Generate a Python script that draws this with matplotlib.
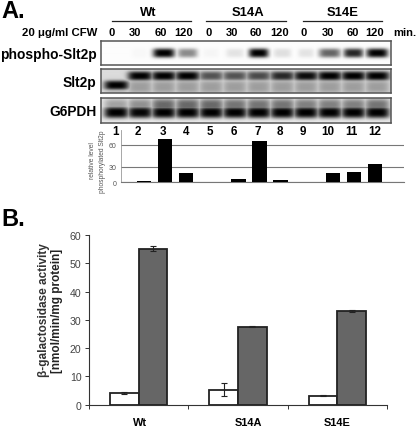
import numpy as np
import matplotlib
matplotlib.use("Agg")
import matplotlib.pyplot as plt

plt.rcParams['font.family'] = ['Liberation Sans', 'DejaVu Sans']

W, H = 416, 427

# band darkness per lane (0 = nothing, 1 = black)
phospho_level = [0.0, 0.02, 1.0, 0.45, 0.03, 0.10, 1.0, 0.12, 0.10, 0.60, 0.85, 1.0]
phospho_width = [8, 8, 11, 10, 8, 9, 10, 9, 8, 11, 10, 11]
slt2_level = [1.0, 1.0, 1.0, 1.0, 0.62, 0.62, 0.66, 0.82, 0.95, 1.0, 1.0, 1.0]
g6pdh_level = [1.0, 0.98, 1.0, 1.0, 1.0, 1.0, 1.0, 1.0, 1.0, 1.0, 1.0, 1.0]
g6pdh_smear = [0.30, 0.38, 0.55, 0.55, 0.55, 0.50, 0.50, 0.50, 0.45, 0.45, 0.45, 0.50]

time_labels = ['0', '30', '60', '120'] * 3
lane_labels = [str(i) for i in range(1, 13)]
time_x = [112, 135, 160.7, 183.3, 208.3, 232.3, 256, 279.3, 303.3, 327.7, 353, 375]
lane_x = [115.7, 138.3, 162.7, 186, 210, 234.3, 257.3, 280, 303.3, 327.7, 351, 374.3]

quant_values = [0, 2, 68.5, 18, 0, 6.6, 66, 4, 0, 17, 19, 34]
quant_groups = [0, 0, 0, 0, 1, 1, 1, 1, 2, 2, 2, 2]

strains = ['Wt', 'S14A', 'S14E']
beta_white = [4.2, 5.2, 3.2]
beta_white_err = [0.3, 2.3, 0.2]
beta_gray = [55.2, 27.6, 33.2]
beta_gray_err = [1.0, 0.1, 0.3]


def ax_px(x0, y0, x1, y1):
    return fig.add_axes([x0 / W, 1 - y1 / H, (x1 - x0) / W, (y1 - y0) / H])


def bands(level, yc, hy, widths=None, wx=12.5, power=4):
    # one band per lane, painted on a 290 x 24 grid
    xx, yy = np.meshgrid(np.arange(290), np.linspace(0, 1, 25))
    out = np.zeros_like(xx, dtype=float)
    for i, a in enumerate(level):
        w = widths[i] if widths else wx
        c = 15 + 23.7 * i
        yi = yc[i] if np.ndim(yc) else yc
        b = a * np.exp(-np.abs((xx - c) / w) ** power) * np.exp(-np.abs((yy - yi) / hy) ** 3)
        out = np.maximum(out, b)
    return out


def show_blot(ax, dark, bg):
    img = np.clip(1 - bg - dark * (1 - bg), 0, 1)
    ax.imshow(img, cmap='gray', vmin=0, vmax=1, aspect='auto', interpolation='bilinear')
    ax.set_xticks([])
    ax.set_yticks([])
    for s in ax.spines.values():
        s.set_color('#555555')
        s.set_linewidth(1.1)


fig = plt.figure(figsize=(W / 100, H / 100), dpi=100)

# blots
ax1 = ax_px(101, 42, 391, 66)
show_blot(ax1, bands(phospho_level, 0.5, 0.2, phospho_width), 0.01)

ax2 = ax_px(101, 70, 391, 94)
slt2_y = [0.68] + [0.28] * 11
d2 = bands(slt2_level, slt2_y, 0.2)
d2 = np.maximum(d2, bands([0.2] + [0.28] * 11, 0.75, 0.3))
show_blot(ax2, d2, 0.14)

ax3 = ax_px(101, 99, 391, 124)
d3 = bands(g6pdh_level, 0.58, 0.24)
d3 = np.maximum(d3, bands(g6pdh_smear, 0.28, 0.28))
show_blot(ax3, d3, 0.09)

# small quantification bars
ax4 = ax_px(121, 131, 404, 183)
scale_from = [0, 30, 60, 80]
scale_to = [0, 15.4, 37, 52]
ax4.set_yscale('function', functions=(lambda v: np.interp(v, scale_from, scale_to),
                                      lambda v: np.interp(v, scale_to, scale_from)))
quant_x = [i + 0.5 * g for i, g in enumerate(quant_groups)]
ax4.bar(quant_x, quant_values, width=0.69, color='black', zorder=3)
ax4.set_xlim(-0.095, 13.38)
ax4.set_ylim(0, 80)
ax4.set_yticks([0, 30, 60])
ax4.tick_params(axis='y', length=0, labelsize=5, labelcolor='#555555', pad=3)
ax4.set_xticks([])
ax4.grid(axis='y', color='#777777', linewidth=0.8, zorder=0)
ax4.patch.set_alpha(0)
for s in ['top', 'right']:
    ax4.spines[s].set_visible(False)
ax4.spines['left'].set_color('#999999')
ax4.spines['left'].set_linewidth(0.6)
ax4.spines['bottom'].set_color('#777777')
ax4.spines['bottom'].set_linewidth(0.8)

# beta-galactosidase bars
ax5 = ax_px(89, 236, 387, 405.7)
xs = np.arange(len(strains))
bw = 0.289
err_style = dict(ecolor='#222222', elinewidth=0.8, capsize=2.2, capthick=0.8)
ax5.bar(xs - bw / 2, beta_white, bw, color='white', edgecolor='#222222', linewidth=1.3,
        yerr=beta_white_err, error_kw=err_style)
ax5.bar(xs + bw / 2, beta_gray, bw, color='#666666', edgecolor='#222222', linewidth=1.3,
        yerr=beta_gray_err, error_kw=err_style)
ax5.set_xlim(-0.5, 2.5)
ax5.set_ylim(0, 60)
ax5.set_yticks(range(0, 61, 10))
ax5.set_xticks([-0.5, 0.5, 1.5, 2.5])
ax5.set_xticklabels([])
ax5.tick_params(axis='both', length=3, width=0.7, color='#333333', labelsize=7.6,
                labelcolor='#444444', pad=2.5)
for s in ['top', 'right']:
    ax5.spines[s].set_visible(False)
for s in ['left', 'bottom']:
    ax5.spines[s].set_linewidth(0.8)
    ax5.spines[s].set_color('#333333')

# text layer in pixel coordinates
tx = fig.add_axes([0, 0, 1, 1])
tx.set_xlim(0, W)
tx.set_ylim(H, 0)
tx.axis('off')
tx.patch.set_alpha(0)

tx.text(1, 11, 'A.', fontsize=17, fontweight='bold', ha='left', va='center')
tx.text(1, 220, 'B.', fontsize=17, fontweight='bold', ha='left', va='center')

group_lines = [(112, 190.7, 148), (206, 285.7, 248), (303, 382, 343)]
for (x0, x1, xc), name in zip(group_lines, strains):
    tx.plot([x0, x1], [21.5, 21.5], color='#222222', linewidth=0.9)
    tx.text(xc, 13, name, fontsize=9.4, fontweight='bold', ha='center', va='center')

tx.text(97, 33, '20 \u03bcg/ml CFW', fontsize=8.2, fontweight='bold', ha='right', va='center')
for x, lab in zip(time_x, time_labels):
    tx.text(x, 33.5, lab, fontsize=8, fontweight='bold', ha='center', va='center')
tx.text(393, 33.5, 'min.', fontsize=8, fontweight='bold', ha='left', va='center')

tx.text(96.5, 55, 'phospho-Slt2p', fontsize=9.9, fontweight='bold', ha='right', va='center')
tx.text(96.5, 83, 'Slt2p', fontsize=9.9, fontweight='bold', ha='right', va='center')
tx.text(96.5, 112, 'G6PDH', fontsize=9.9, fontweight='bold', ha='right', va='center')

for x, lab in zip(lane_x, lane_labels):
    tx.text(x, 132.5, lab, fontsize=8.4, fontweight='bold', ha='center', va='center')

tx.text(93, 161, 'relative level', fontsize=4.8, color='#555555', rotation=90, ha='center', va='center')
tx.text(102, 162, 'phosphorylated Slt2p', fontsize=4.8, color='#555555', rotation=90, ha='center', va='center')

tx.text(44, 310, '\u03b2-galactosidase activity', fontsize=8.5, fontweight='bold', color='#333333',
        rotation=90, ha='center', va='center')
tx.text(57, 311, '[nmol/min/mg protein]', fontsize=8.5, fontweight='bold', color='#222222',
        rotation=90, ha='center', va='center')

for x, name in zip([140, 248, 337], strains):
    tx.text(x, 423, name, fontsize=7.9, fontweight='bold', ha='center', va='center')

fig.savefig('out.png', dpi=100)
